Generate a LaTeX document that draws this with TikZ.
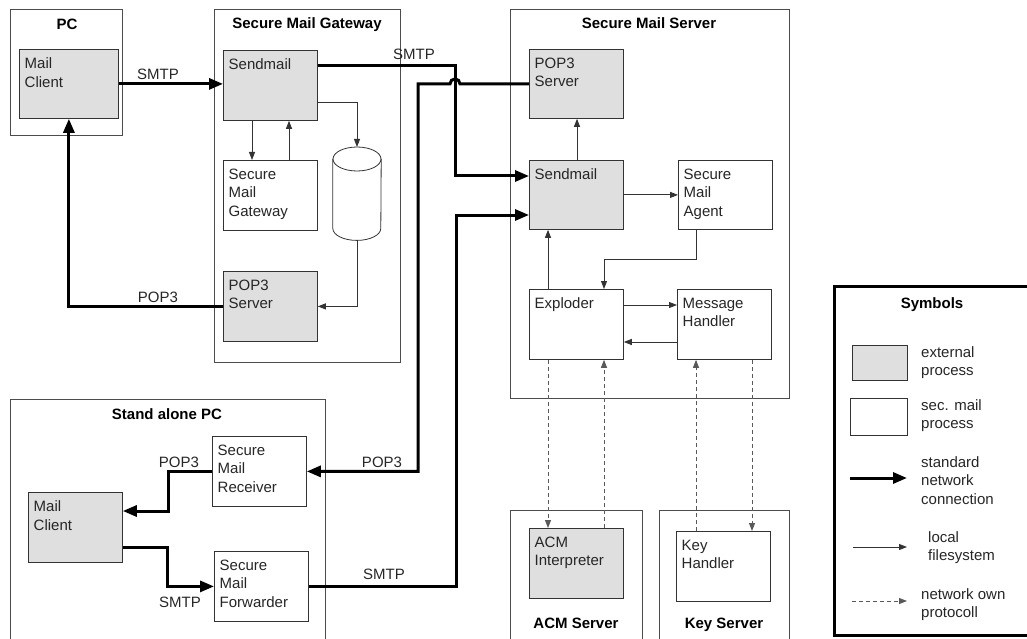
\documentclass[tikz,border=0pt]{standalone}
\usepackage{fontspec}
\setmainfont{Liberation Sans}
\usetikzlibrary{arrows.meta}
\newcommand\procfont{\fontsize{15}{18.5}\selectfont}
\newcommand\headfont{\fontsize{15}{18}\selectfont\bfseries}
\begin{document}
\begin{tikzpicture}[x=1pt,y=-1pt,
  group/.style={draw=black!70, line width=0.8pt, anchor=north west, inner sep=0pt},
  head/.style={font=\headfont, anchor=base, inner sep=0pt},
  proc/.style={draw=black!80, line width=0.8pt, fill=white, anchor=north west, inner sep=0pt, minimum width=94pt, minimum height=70pt},
  ext/.style={proc, fill=gray!25},
  txt/.style={anchor=north west, align=left, inner xsep=5.5pt, inner ysep=8.5pt, font=\procfont, text=black!85},
  keytxt/.style={anchor=north west, align=left, inner sep=0pt, font=\procfont, text=black!85},
  lbl/.style={font=\procfont, text=black!85, anchor=base, inner sep=0pt},
  netline/.style={line width=3pt, -{Triangle[length=14pt,width=11pt]}},
  fsline/.style={line width=0.9pt, draw=black!80, -{Triangle[length=8pt,width=6pt]}},
  ownline/.style={fsline, draw=black!65, dash pattern=on 4pt off 3pt},
  dbline/.style={draw=black!80, line width=0.8pt},
]
\useasboundingbox (0,0) rectangle (1027,639);
\clip (0,0) rectangle (1027,639);

% frames
\node[group, minimum width=112pt, minimum height=126pt] (pc) at (10,9) {};
\node[group, minimum width=186pt, minimum height=353pt] (gw) at (214,9) {};
\node[group, minimum width=279pt, minimum height=389pt] (srv) at (510,9) {};
\node[group, minimum width=315pt, minimum height=260pt] (sapc) at (10,399) {};
\node[group, minimum width=132pt, minimum height=150pt] (acms) at (510,510) {};
\node[group, minimum width=130pt, minimum height=150pt] (keys) at (659,510) {};
\node[group, draw=black, line width=3pt, minimum width=220pt, minimum height=349pt] (symb) at (833,285) {};

\node[head] (pct) at (67,30) {PC};
\node[head] (gwt) at (307,29) {Secure Mail Gateway};
\node[head] (srvt) at (649,29) {Secure Mail Server};
\node[head] (sapct) at (167,419) {Stand alone PC};
\node[head] (acmt) at (576,628) {ACM Server};
\node[head] (keyt) at (724,628) {Key Server};
\node[head] (symbt) at (932,308) {Symbols};

% processes
\node[ext, minimum width=99pt, minimum height=69pt, label={[txt]north west:Mail\\Client}] (pcmc) at (19,49) {};
\node[ext, label={[txt]north west:Sendmail}] (gwsm) at (223,50) {};
\node[proc, label={[txt]north west:Secure\\Mail\\Gateway}] (gwsmg) at (223,160) {};
\node[ext, label={[txt]north west:POP3\\Server}] (gwpop) at (223,271) {};
\node[inner sep=0pt, minimum width=48pt, minimum height=93pt, anchor=north] (db) at (357,147) {};
\draw[dbline] ([yshift=-12pt]db.north) ellipse [x radius=24pt, y radius=12pt];
\draw[dbline] ([yshift=-12pt]db.north west) -- ([yshift=12pt]db.south west)
  arc[start angle=180, end angle=360, x radius=24pt, y radius=12pt] -- ([yshift=-12pt]db.north east);

\node[ext, minimum height=69pt, label={[txt]north west:POP3\\Server}] (srvpop) at (529,49) {};
\node[ext, minimum height=69pt, label={[txt]north west:Sendmail}] (srvsm) at (529,160) {};
\node[proc, minimum height=69pt, label={[txt]north west:Secure\\Mail\\Agent}] (sma) at (678,160) {};
\node[proc, label={[txt]north west:Exploder}] (expl) at (529,289) {};
\node[proc, label={[txt]north west:Message\\Handler}] (mh) at (677,289) {};
\node[ext, label={[txt]north west:ACM\\Interpreter}] (acm) at (529,528) {};
\node[proc, label={[txt]north west:Key\\Handler}] (kh) at (676,531) {};

\node[ext, label={[txt]north west:Mail\\Client}] (samc) at (28,492) {};
\node[proc, label={[txt]north west:Secure\\Mail\\Receiver}] (smr) at (212,436) {};
\node[proc, label={[txt]north west:Secure\\Mail\\Forwarder}] (smf) at (214,551) {};

% standard network connections
\draw[netline] (pcmc.east) -- (pcmc.east -| gwsm.west);
\draw[netline] (gwpop.west) -| (pcmc.south);
\draw[netline] ([yshift=-16pt]gwsm.north east) -- ++(138,0) |- ([yshift=-16pt]srvsm.north west);
\draw[netline] (srvpop.west) -- ++(-69,0) arc[start angle=0, end angle=180, radius=5pt]
  -- ++(-32,0) |- (smr.east);
\draw[netline] (smf.east) -- ++(148,0) |- ([yshift=-55pt]srvsm.north west);
\draw[netline] (smr.west) -- ++(-44,0) |- ([yshift=-19pt]samc.north east);
\draw[netline] ([yshift=-55pt]samc.north east) -- ++(45,0) |- (smf.west);

\node[lbl] (smtpa) at (158,80) {SMTP};
\node[lbl] (pop3a) at (158,302) {POP3};
\node[lbl] (smtpb) at (414,60) {SMTP};
\node[lbl] (pop3b) at (382,467) {POP3};
\node[lbl] (smtpc) at (384,579) {SMTP};
\node[lbl] (pop3c) at (179,467) {POP3};
\node[lbl] (smtpd) at (180,607) {SMTP};

% local filesystem
\draw[fsline] ([xshift=29pt]gwsm.south west) -- ([xshift=29pt]gwsmg.north west);
\draw[fsline] ([xshift=66pt]gwsmg.north west) -- ([xshift=66pt]gwsm.south west);
\draw[fsline] ([yshift=-52pt]gwsm.north east) -| (db.north);
\draw[fsline] (db.south) |- (gwpop.east);
\draw[fsline] ([xshift=48pt]srvsm.north west) -- ([xshift=48pt]srvpop.south west);
\draw[fsline] (srvsm.east) -- (sma.west);
\draw[fsline] ([xshift=18pt]sma.south west) -- ++(0,30) -| ([xshift=75pt]expl.north west);
\draw[fsline] ([xshift=19pt]expl.north west) -- ([xshift=19pt]srvsm.south west);
\draw[fsline] ([yshift=-16pt]expl.north east) -- ([yshift=-16pt]mh.north west);
\draw[fsline] ([yshift=-53pt]mh.north west) -- ([yshift=-53pt]expl.north east);

% own protocol
\draw[ownline] ([xshift=19pt]expl.south west) -- ([xshift=19pt]acm.north west);
\draw[ownline] ([xshift=75pt]acm.north west) -- ([xshift=75pt]expl.south west);
\draw[ownline] ([xshift=20pt]kh.north west) -- ([xshift=19pt]mh.south west);
\draw[ownline] ([xshift=75pt]mh.south west) -- ([xshift=76pt]kh.north west);

% symbols
\node[ext, minimum width=55pt, minimum height=35pt] (keyext) at (852,345) {};
\node[proc, minimum width=57pt, minimum height=37pt] (keyproc) at (850,398) {};
\coordinate (netA) at (850,478);
\coordinate (netB) at (907,478);
\coordinate (fsA) at (853,547);
\coordinate (fsB) at (907,547);
\coordinate (ownA) at (852,601);
\coordinate (ownB) at (907,601);
\draw[netline] (netA) -- (netB);
\draw[fsline] (fsA) -- (fsB);
\draw[ownline] (ownA) -- (ownB);
\node[keytxt] (keyextt) at (921,346) {external\\process};
\node[keytxt] (keyproct) at (921,399) {sec. mail\\process};
\node[keytxt] (nett) at (921,456) {standard\\network\\connection};
\node[keytxt] (fst) at (928,531) {local\\filesystem};
\node[keytxt] (ownt) at (921,588) {network own\\protocoll};
\end{tikzpicture}
\end{document}
